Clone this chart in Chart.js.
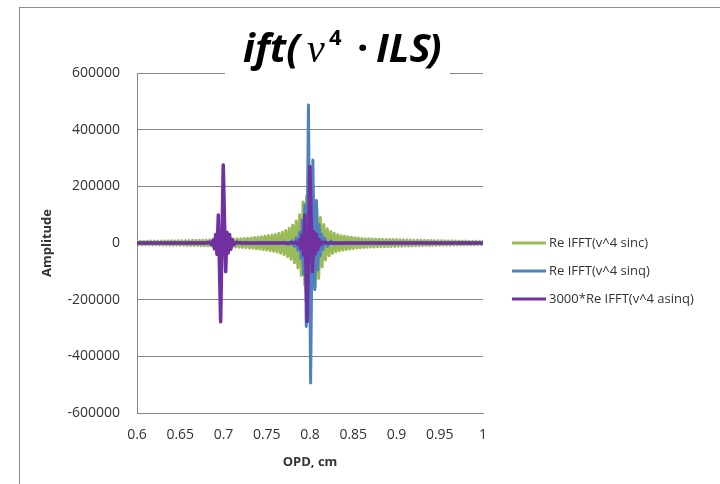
<!DOCTYPE html>
<html>
<head>
<meta charset="utf-8">
<script src="https://cdn.jsdelivr.net/npm/chart.js@4"></script>
<style>
html,body{margin:0;padding:0;background:#fff;}
#wrap{position:relative;width:720px;height:484px;overflow:hidden;}
#frame{position:absolute;left:19px;top:7px;width:760px;height:520px;border-left:1px solid #8c8c8c;border-top:1px solid #8c8c8c;pointer-events:none;}
canvas{position:absolute;left:0;top:0;}
</style>
</head>
<body>
<div id="wrap"><canvas id="c" width="720" height="484"></canvas><div id="frame"></div></div>
<script>
// ---- data ----
const seriesLabels = ['Re IFFT(v^4 sinc)', 'Re IFFT(v^4 sinq)', '3000*Re IFFT(v^4 asinq)'];

const opdSinc = [
 0.600,0.602,0.604,0.606,0.608,0.610,0.612,0.614,0.616,0.618,
 0.620,0.622,0.624,0.626,0.628,0.630,0.632,0.634,0.636,0.638,
 0.640,0.642,0.644,0.646,0.648,0.650,0.652,0.654,0.656,0.658,
 0.660,0.662,0.664,0.666,0.668,0.670,0.672,0.674,0.676,0.678,
 0.680,0.682,0.684,0.686,0.688,0.690,0.692,0.694,0.696,0.698,
 0.700,0.702,0.704,0.706,0.708,0.710,0.712,0.714,0.716,0.718,
 0.720,0.722,0.724,0.726,0.728,0.730,0.732,0.734,0.736,0.738,
 0.740,0.742,0.744,0.746,0.748,0.750,0.752,0.754,0.756,0.758,
 0.760,0.762,0.764,0.766,0.768,0.770,0.772,0.774,0.776,0.778,
 0.780,0.782,0.784,0.786,0.788,0.790,0.792,0.794,0.796,0.798,
 0.800,0.802,0.804,0.806,0.808,0.810,0.812,0.814,0.816,0.818,
 0.820,0.822,0.824,0.826,0.828,0.830,0.832,0.834,0.836,0.838,
 0.840,0.842,0.844,0.846,0.848,0.850,0.852,0.854,0.856,0.858,
 0.860,0.862,0.864,0.866,0.868,0.870,0.872,0.874,0.876,0.878,
 0.880,0.882,0.884,0.886,0.888,0.890,0.892,0.894,0.896,0.898,
 0.900,0.902,0.904,0.906,0.908,0.910,0.912,0.914,0.916,0.918,
 0.920,0.922,0.924,0.926,0.928,0.930,0.932,0.934,0.936,0.938,
 0.940,0.942,0.944,0.946,0.948,0.950,0.952,0.954,0.956,0.958,
 0.960,0.962,0.964,0.966,0.968,0.970,0.972,0.974,0.976,0.978,
 0.980,0.982,0.984,0.986,0.988,0.990,0.992,0.994,0.996,0.998,
 1.000
];
const ampSinc = [
 6000,-6000,6100,-6100,6200,-6200,6300,-6300,6400,-6400,
 6500,-6600,6700,-6800,6900,-7000,7100,-7200,7300,-7400,
 7500,-7600,7700,-7800,7900,-8000,8100,-8200,8300,-8500,
 8600,-8700,8900,-9000,9200,-9300,9500,-9600,9800,-10000,
 10000,-10200,10400,-10600,10800,-11000,11200,-11400,11700,-11900,
 12000,-12300,12600,-12900,13200,-13500,13800,-14100,14500,-14900,
 15000,-15500,16000,-16500,17000,-17500,18000,-18700,19400,-20000,
 20500,-21300,22000,-23000,24000,-25000,26000,-27000,28000,-29000,
 30000,-32000,34000,-36000,38000,-41000,44000,-48000,52000,-57000,
 63000,-70000,78000,-88000,100000,-115000,145000,-150000,165000,-160000,
 190000,-165000,150000,-155000,118000,-125000,90000,-85000,65000,-60000,
 50000,-45000,41000,-37000,34000,-31000,29000,-27000,26000,-25000,
 24000,-23000,22000,-21000,20000,-19200,18500,-17800,17200,-16600,
 16100,-15700,15300,-15000,14700,-14400,14100,-13800,13600,-13400,
 13200,-13000,12900,-12800,12700,-12600,12500,-12400,12300,-12200,
 12000,-11800,11600,-11400,11200,-11000,10800,-10600,10400,-10200,
 10000,-9900,9700,-9600,9400,-9300,9100,-9000,8800,-8700,
 8800,-8600,8500,-8300,8200,-8000,7900,-7800,7700,-7500,
 7400,-7300,7200,-7100,7000,-6900,6800,-6700,6600,-6500,
 6400,-6300,6200,-6100,6100,-6000,5900,-5900,5800,-5800,
 5700
];

const opdSinq = [
 0.600,0.760,0.770,0.775,0.779,0.782,0.784,0.786,0.788,0.7895,
 0.791,0.7925,0.794,0.7957,0.7982,0.8007,0.8033,0.8055,0.8075,0.809,
 0.8105,0.812,0.8135,0.815,0.817,0.820,0.824,0.828,0.840,1.000
];
const ampSinq = [
 0,0,3000,-5000,8000,-12000,18000,-26000,38000,-55000,
 80000,-110000,135000,-295000,487000,-494000,293000,-165000,150000,-95000,
 65000,-45000,32000,-24000,17000,-12000,7000,-4000,0,0
];

const opdAsinq = [
 0.600,0.680,0.684,0.686,0.688,0.6895,0.691,0.6925,0.694,0.6967,
 0.6997,0.7025,0.704,0.7055,0.707,0.7085,0.710,0.712,0.715,0.720,
 0.780,0.784,0.786,0.788,0.7895,0.791,0.7925,0.794,0.7967,0.7999,
 0.8027,0.8045,0.806,0.8075,0.809,0.8105,0.8125,0.815,0.820,1.000
];
const ampAsinq = [
 0,0,3000,-5000,10000,-20000,30000,-40000,99000,-278000,
 275000,-101000,38000,-35000,30000,-22000,12000,-6000,2500,0,
 0,3000,-5000,10000,-20000,30000,-42000,99000,-278000,270000,
 -101000,40000,-38000,30000,-22000,12000,-6000,2500,0,0
];

const xTickLabels = ['0.6','0.65','0.7','0.75','0.8','0.85','0.9','0.95','1'];
const yTickLabels = ['-600000','-400000','-200000','0','200000','400000','600000'];
const xAxisTitle = 'OPD, cm';
const yAxisTitle = 'Amplitude';
const titleParts = ['ift(', 'ν', '4', '·', 'ILS', ')'];

// ---- styling ----
const colors = ['#9BBB59', '#4F81BD', '#7030A0'];
const gray = '#868686';
const textColor = '#333333';
const FONT = '"Open Sans", "DejaVu Sans", sans-serif';

const toPts = (xs, ys) => xs.map((x, i) => ({x: x, y: ys[i]}));

const titleStyle = [
  {x: 243, y: 62, font: 'italic bold 40px ' + FONT},
  {x: 307, y: 62, font: 'italic 40px "Liberation Serif", serif'},
  {x: 329, y: 45, font: 'bold 22px ' + FONT},
  {x: 357, y: 62, font: 'bold 40px ' + FONT},
  {x: 376, y: 62, font: 'italic bold 40px ' + FONT},
  {x: 428, y: 62, font: 'italic bold 40px ' + FONT}
];

const titlePlugin = {
  id: 'eqTitle',
  afterDraw(chart) {
    const ctx = chart.ctx;
    ctx.save();
    ctx.fillStyle = '#ffffff';
    ctx.fillRect(225, 9, 225, 66);
    ctx.fillStyle = '#000000';
    ctx.textBaseline = 'alphabetic';
    ctx.textAlign = 'left';
    titleParts.forEach((t, i) => {
      ctx.font = titleStyle[i].font;
      ctx.fillText(t, titleStyle[i].x, titleStyle[i].y);
    });
    ctx.restore();
  }
};

const legendPlugin = {
  id: 'sideLegend',
  afterDraw(chart) {
    const ctx = chart.ctx;
    const x0 = chart.chartArea.right + 29;
    ctx.save();
    ctx.font = '13px ' + FONT;
    ctx.textBaseline = 'middle';
    ctx.textAlign = 'left';
    chart.data.datasets.forEach((ds, i) => {
      const y = 243 + i * 28;
      ctx.fillStyle = ds.borderColor;
      ctx.fillRect(x0, y - 1.5, 34, 3);
      ctx.fillStyle = textColor;
      ctx.fillText(ds.label, x0 + 37, y);
    });
    ctx.restore();
  }
};

const common = {pointRadius: 0, fill: false, tension: 0, borderJoinStyle: 'round', borderCapStyle: 'round'};

new Chart(document.getElementById('c'), {
  type: 'line',
  data: {
    datasets: [
      Object.assign({label: seriesLabels[0], data: toPts(opdSinc, ampSinc), borderColor: colors[0], backgroundColor: colors[0], borderWidth: 3, order: 3}, common),
      Object.assign({label: seriesLabels[1], data: toPts(opdSinq, ampSinq), borderColor: colors[1], backgroundColor: colors[1], borderWidth: 3, order: 2}, common),
      Object.assign({label: seriesLabels[2], data: toPts(opdAsinq, ampAsinq), borderColor: colors[2], backgroundColor: colors[2], borderWidth: 3.5, order: 1}, common)
    ]
  },
  options: {
    responsive: false,
    animation: false,
    events: [],
    layout: {padding: {left: 32, top: 73, right: 237, bottom: 0}},
    plugins: {legend: {display: false}, title: {display: false}, tooltip: {enabled: false}},
    scales: {
      x: {
        type: 'linear', min: 0.6, max: 1,
        afterFit: (s) => { s.height = 71; },
        grid: {display: false, drawTicks: false},
        border: {display: true, color: gray, width: 1},
        ticks: {stepSize: 0.05, autoSkip: false, maxRotation: 0, padding: 14, color: textColor,
                font: {family: FONT, size: 14},
                callback: (v, i) => xTickLabels[i] !== undefined ? xTickLabels[i] : String(v)},
        title: {display: true, text: xAxisTitle, color: textColor, font: {family: FONT, size: 13, weight: 'bold'}, padding: {top: 0, bottom: 14}}
      },
      y: {
        type: 'linear', min: -600000, max: 600000,
        afterFit: (s) => { s.width = 105; },
        grid: {color: gray, lineWidth: 1, drawTicks: false},
        border: {display: true, color: gray, width: 1},
        ticks: {stepSize: 200000, padding: 17, color: textColor,
                font: {family: FONT, size: 14},
                callback: (v, i) => yTickLabels[i] !== undefined ? yTickLabels[i] : String(v)},
        title: {display: true, text: yAxisTitle, color: textColor, font: {family: FONT, size: 13, weight: 'bold'}, padding: {top: 7, bottom: 0}}
      }
    }
  },
  plugins: [titlePlugin, legendPlugin]
});
</script>
</body>
</html>
